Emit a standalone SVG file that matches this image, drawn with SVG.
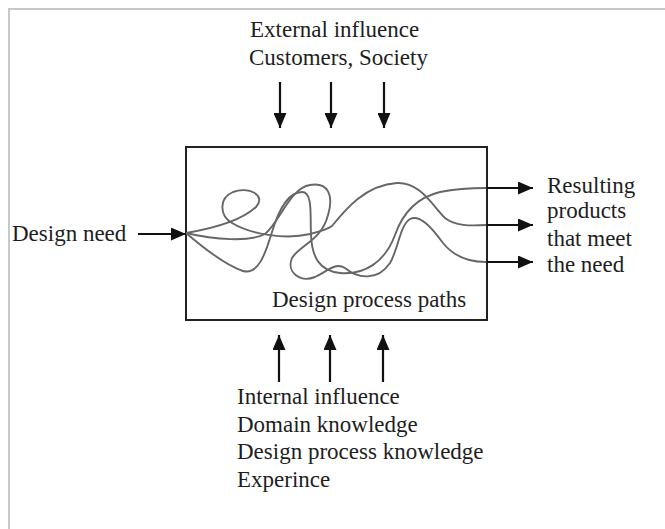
<svg xmlns="http://www.w3.org/2000/svg" width="665" height="529" viewBox="0 0 665 529">
  <style>
    .t { font-family: "Liberation Serif", "Times New Roman", serif; font-size: 23px; fill: #1e1e1e; }
    .arrow { stroke: #111; stroke-width: 2.2; fill: none; marker-end: url(#head); }
    .path { stroke: #666; stroke-width: 1.9; fill: none; }
    .frame { stroke: #c8c8c8; stroke-width: 2; fill: none; }
  </style>
  <defs>
    <marker id="head" markerUnits="userSpaceOnUse" markerWidth="15" markerHeight="13" refX="15" refY="6.5" orient="auto">
      <path d="M0,0 L15,6.5 L0,13 z" fill="#111"/>
    </marker>
  </defs>
  <rect width="665" height="529" fill="#fff"/>
  <path class="frame" d="M9,529 L9,9 L665,9"/>

  <g id="process-box">
    <rect x="186" y="147" width="301" height="173" fill="none" stroke="#222" stroke-width="2"/>
    <path class="path" d="M186,233 C210,229 240,222 256,207 C267,195 248,186 233,192 C219,198 219,215 232,223 C250,234 285,240 310,234 C322,231 328,229 332,226 C345,210 365,185 397,183 C420,182 432,205 445,218 C455,226 470,226 486,225"/>
    <path class="path" d="M186,233 C200,245 225,265 243,271 C258,275 265,255 272,232 C278,212 288,192 302,192 C313,192 310,215 311,235 C312,258 320,271 340,273 C365,275 385,262 395,235 C402,215 415,198 440,192 C460,188 475,188 486,188"/>
    <path class="path" d="M186,233 C215,240 250,242 265,234 C280,222 290,188 310,185 C328,182 334,195 328,215 C322,240 300,245 292,258 C286,272 300,283 315,277 C328,271 335,262 345,268 C358,279 378,281 390,263 C398,250 400,225 410,219 C420,214 432,228 443,243 C455,258 470,262 486,262"/>
    <text class="t" x="272" y="307">Design process paths</text>
  </g>

  <g id="external-influence">
    <text class="t" x="250" y="37">External influence</text>
    <text class="t" x="249" y="65">Customers, Society</text>
  </g>

  <g id="design-need">
    <text class="t" x="12" y="241">Design need</text>
  </g>

  <g id="resulting-products">
    <text class="t" x="547" y="193">Resulting</text>
    <text class="t" x="547" y="218">products</text>
    <text class="t" x="547" y="246">that meet</text>
    <text class="t" x="547" y="272">the need</text>
  </g>

  <g id="internal-influence">
    <text class="t" x="237" y="404">Internal influence</text>
    <text class="t" x="237" y="432">Domain knowledge</text>
    <text class="t" x="237" y="459">Design process knowledge</text>
    <text class="t" x="237" y="487">Experince</text>
  </g>

  <g id="connectors">
    <line class="arrow" x1="280" y1="82" x2="280" y2="128"/>
    <line class="arrow" x1="331" y1="82" x2="331" y2="128"/>
    <line class="arrow" x1="384" y1="82" x2="384" y2="128"/>
    <line class="arrow" x1="279" y1="382" x2="279" y2="335"/>
    <line class="arrow" x1="330" y1="382" x2="330" y2="335"/>
    <line class="arrow" x1="383" y1="382" x2="383" y2="335"/>
    <line class="arrow" x1="138" y1="234" x2="186" y2="234"/>
    <line class="arrow" x1="487" y1="188" x2="533" y2="188"/>
    <line class="arrow" x1="487" y1="225" x2="533" y2="225"/>
    <line class="arrow" x1="487" y1="262" x2="533" y2="262"/>
  </g>
</svg>
